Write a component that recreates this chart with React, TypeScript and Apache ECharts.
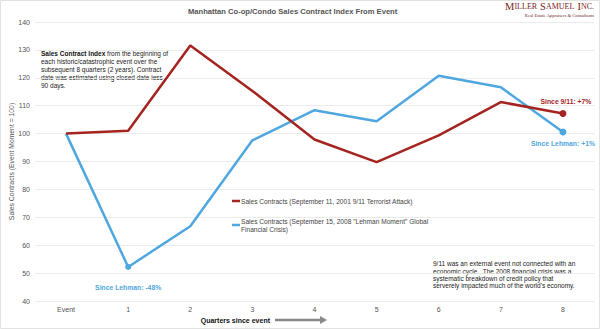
import React, { useEffect, useRef } from "react";
import * as echarts from "echarts";

const categories = ["Event", "1", "2", "3", "4", "5", "6", "7", "8"];
const sept11Values = [100, 101, 131.6, 115.3, 97.9, 89.8, 99.4, 111.3, 107.2];
const lehmanValues = [100, 52.2, 66.8, 97.6, 108.4, 104.4, 120.7, 116.6, 100.6];
const yTicks = { min: 40, max: 140, interval: 10 };

const RED = "#a4241f";
const BLUE = "#4fa7e0";
const FONT = "'Liberation Sans', Arial, sans-serif";
const SERIF = "'Liberation Serif', 'DejaVu Serif', serif";

const sept11Name = "Sales Contracts (September 11, 2001 9/11 Terrorist Attack)";
const lehmanName = 'Sales Contracts (September 15, 2008 "Lehman Moment" Global Financial Crisis)';

export default function App() {
  const ref = useRef<HTMLDivElement>(null);
  useEffect(() => {
    document.body.style.margin = "0";
    const chart = echarts.init(ref.current!, null, { renderer: "svg" });
    const lbl = (text: string, color: string, position: string, distance: number, offset: number[] = [0, 0]) => ({
      show: true,
      position,
      distance,
      offset,
      formatter: text,
      color,
      fontWeight: "bold",
      fontSize: 6.8,
      fontFamily: FONT,
    });
    const redData: any[] = sept11Values.map((v, i) =>
      i === sept11Values.length - 1
        ? { value: v, symbol: "circle", symbolSize: 7, label: lbl("Since 9/11: +7%", RED, "top", 5, [3, 0]) }
        : { value: v }
    );
    const blueData: any[] = lehmanValues.map((v, i) => {
      if (i === 1)
        return { value: v, symbol: "circle", symbolSize: 6, label: lbl("Since Lehman: -48%", BLUE, "bottom", 14) };
      if (i === lehmanValues.length - 1)
        return { value: v, symbol: "circle", symbolSize: 7, label: lbl("Since Lehman: +1%", BLUE, "bottom", 5) };
      return { value: v };
    });

    chart.setOption({
      animation: false,
      backgroundColor: "#ffffff",
      textStyle: { fontFamily: FONT },
      title: {
        text: "Manhattan Co-op/Condo Sales Contract Index From Event",
        left: 188,
        top: 7,
        padding: 0,
        textStyle: { fontSize: 7.6, fontWeight: "bold", color: "#555", fontFamily: FONT },
      },
      grid: { left: 35, right: 6, top: 22, bottom: 28, outerBoundsMode: "none", containLabel: false },
      legend: {
        orient: "vertical",
        left: 232,
        top: 197,
        itemGap: 12,
        itemWidth: 8,
        itemHeight: 2.5,
        padding: 0,
        icon: "rect",
        data: [sept11Name, lehmanName],
        formatter: (name: string) =>
          name === lehmanName
            ? 'Sales Contracts (September 15, 2008 "Lehman Moment" Global\nFinancial Crisis)'
            : name,
        textStyle: { fontSize: 6.6, color: "#444", fontFamily: FONT, lineHeight: 8, padding: [0, 0, 0, -4] },
      },
      xAxis: {
        type: "category",
        data: categories,
        boundaryGap: true,
        axisLine: { show: false },
        axisTick: { show: false },
        axisLabel: { fontSize: 7, color: "#555", margin: 5 },
      },
      yAxis: {
        type: "value",
        min: yTicks.min,
        max: yTicks.max,
        interval: yTicks.interval,
        name: "Sales Contracts (Event Moment = 100)",
        nameLocation: "middle",
        nameGap: 20,
        nameMoveOverlap: false,
        nameTextStyle: { fontSize: 6.8, color: "#555" },
        axisLabel: { fontSize: 7, color: "#555", margin: 5 },
        splitLine: { lineStyle: { color: "#e6e6e6", width: 0.8 } },
      },
      series: [
        {
          name: sept11Name,
          type: "line",
          data: redData,
          symbol: "none",
          lineStyle: { color: RED, width: 2.5 },
          itemStyle: { color: RED },
          color: RED,
          z: 3,
        },
        {
          name: lehmanName,
          type: "line",
          data: blueData,
          symbol: "none",
          lineStyle: { color: BLUE, width: 2.5 },
          itemStyle: { color: BLUE },
          color: BLUE,
          z: 2,
        },
      ],
      graphic: [
        {
          type: "rect",
          shape: { x: 0.5, y: 0.5, width: 599, height: 328 },
          style: { fill: "none", stroke: "#e2e2e2", lineWidth: 1 },
          silent: true,
        },
        {
          type: "text",
          x: 41,
          y: 49,
          style: {
            text: "{b|Sales Contract Index} from the beginning of\neach historic/catastrophic event over the\nsubsequent 8 quarters (2 years). Contract\ndate was estimated using closed date less\n90 days.",
            fontSize: 6.5,
            lineHeight: 8,
            fill: "#222",
            fontFamily: FONT,
            rich: { b: { fontWeight: "bold", fontSize: 6.5, fill: "#111", fontFamily: FONT } },
          },
        },
        {
          type: "text",
          x: 433,
          y: 260,
          style: {
            text: "9/11 was an external event not connected with an\neconomic cycle.  The 2008 financial crisis was a\nsystematic breakdown of credit policy that\nserverely impacted much of the world's economy.",
            fontSize: 6.5,
            lineHeight: 7.4,
            fill: "#222",
            fontFamily: FONT,
          },
        },
        {
          type: "text",
          x: 270,
          y: 320,
          style: {
            text: "Quarters since event",
            fontSize: 7,
            fontWeight: "bold",
            fill: "#111",
            fontFamily: FONT,
            align: "right",
            verticalAlign: "middle",
          },
        },
        {
          type: "line",
          shape: { x1: 275, y1: 320, x2: 321, y2: 320 },
          style: { stroke: "#888", lineWidth: 2.5 },
        },
        {
          type: "polygon",
          shape: { points: [[320, 316], [327, 320], [320, 324]] },
          style: { fill: "#888" },
        },
        {
          type: "text",
          x: 594,
          y: 1,
          style: {
            text: "{B|M}{s|ILLER} {B|S}{s|AMUEL} {B|I}{s|NC.}",
            align: "right",
            fontFamily: SERIF,
            fill: "#7a1d1d",
            lineHeight: 11,
            rich: {
              B: { fontSize: 10.5, fontFamily: SERIF, fill: "#7a1d1d", lineHeight: 11 },
              s: { fontSize: 8, fontFamily: SERIF, fill: "#7a1d1d", lineHeight: 11 },
            },
          },
        },
        {
          type: "text",
          x: 594,
          y: 13,
          style: {
            text: "Real Estate Appraisers & Consultants",
            align: "right",
            fontSize: 4.6,
            fontFamily: SERIF,
            fill: "#6a2a2a",
          },
        },
      ],
    });
    return () => chart.dispose();
  }, []);
  return <div ref={ref} style={{ width: 600, height: 329 }} />;
}
